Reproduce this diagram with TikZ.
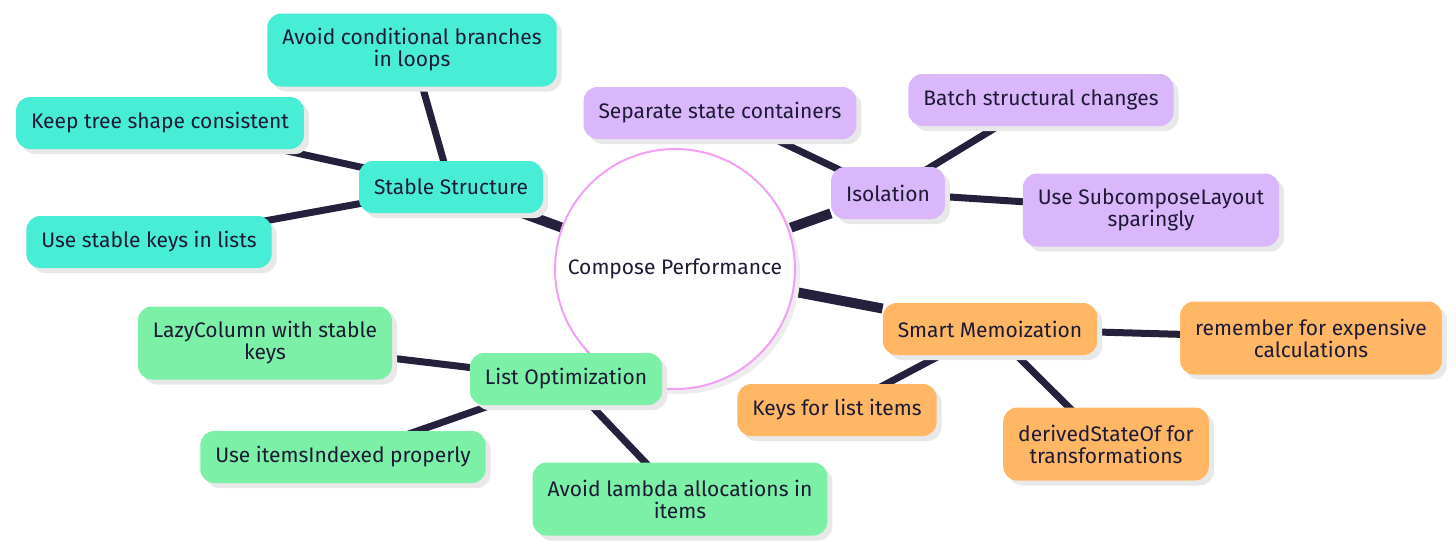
\documentclass[tikz,border=0pt]{standalone}
\usepackage{fontspec}
\setmainfont{Fira Sans}
\usepackage{tikz}
\usetikzlibrary{shadows,backgrounds}
\definecolor{ink}{HTML}{1C1A35}
\definecolor{linkc}{HTML}{25213D}
\definecolor{teal}{HTML}{48EDD6}
\definecolor{lilac}{HTML}{DAB6FB}
\definecolor{apricot}{HTML}{FFB765}
\definecolor{mint}{HTML}{7CF0A6}
\definecolor{pinkc}{HTML}{F2A0F5}

\begin{document}
\begin{tikzpicture}
            [
            x=1pt,y=-1pt,
            every node/.style={font={\fontsize{21}{22}\selectfont},text=ink},
            box/.style={rounded corners=14pt,minimum height=52pt,inner xsep=15pt,
                align=center,
                drop shadow={shadow xshift=5pt,shadow yshift=-5pt,fill=black!9,opacity=1}},
            tallbox/.style={box,minimum height=73pt},
            branch/.style={draw=linkc,line width=10pt},
            leaf/.style={draw=linkc,line width=7pt},
            ]
            \useasboundingbox (0,0) rectangle (1456,550);

            % Root
            \node[circle,fill=white,draw=pinkc,line width=2pt,minimum size=240pt,
                drop shadow={shadow xshift=5pt,shadow yshift=-5pt,fill=black!7,opacity=1}]
                (root) at (675,269) {Compose Performance};

            % Stable Structure
            \node[box,fill=teal] (stable) at (451,187) {Stable Structure};
            \node[tallbox,fill=teal] (branches) at (412,50) {Avoid conditional branches\\in loops};
            \node[box,fill=teal] (tree) at (160,123) {Keep tree shape consistent};
            \node[box,fill=teal] (keys) at (149,242) {Use stable keys in lists};

            % Isolation
            \node[box,fill=lilac] (iso) at (888,193) {Isolation};
            \node[box,fill=lilac] (containers) at (720,113) {Separate state containers};
            \node[box,fill=lilac] (batch) at (1041,100) {Batch structural changes};
            \node[tallbox,fill=lilac] (subcompose) at (1151,210) {Use SubcomposeLayout\\sparingly};

            % Smart Memoization
            \node[box,fill=apricot] (memo) at (990,329) {Smart Memoization};
            \node[tallbox,fill=apricot] (remember) at (1311,338) {remember for expensive\\calculations};
            \node[box,fill=apricot] (itemkeys) at (837,410) {Keys for list items};
            \node[tallbox,fill=apricot] (derived) at (1106,444) {derivedStateOf for\\transformations};

            % List Optimization
            \node[box,fill=mint] (listopt) at (566,379) {List Optimization};
            \node[tallbox,fill=mint] (lazy) at (265,343) {LazyColumn with stable\\keys};
            \node[box,fill=mint] (indexed) at (343,457) {Use itemsIndexed properly};
            \node[tallbox,fill=mint] (lambda) at (680,499) {Avoid lambda allocations in\\items};

            % Links
            \begin{scope}[on background layer]
                \draw[branch] (root) -- (stable);
                \draw[branch] (root) -- (iso);
                \draw[branch] (root) -- (memo);
                \draw[branch] (root) -- (listopt);
                \draw[leaf] (stable.center) -- (branches.center);
                \draw[leaf] (stable.center) -- (tree.center);
                \draw[leaf] (stable.center) -- (keys.center);
                \draw[leaf] (iso.center) -- (containers.center);
                \draw[leaf] (iso.center) -- (batch.center);
                \draw[leaf] (iso.center) -- (subcompose.center);
                \draw[leaf] (memo.center) -- (remember.center);
                \draw[leaf] (memo.center) -- (itemkeys.center);
                \draw[leaf] (memo.center) -- (derived.center);
                \draw[leaf] (listopt.center) -- (lazy.center);
                \draw[leaf] (listopt.center) -- (indexed.center);
                \draw[leaf] (listopt.center) -- (lambda.center);
            \end{scope}

        \end{tikzpicture}
\end{document}
